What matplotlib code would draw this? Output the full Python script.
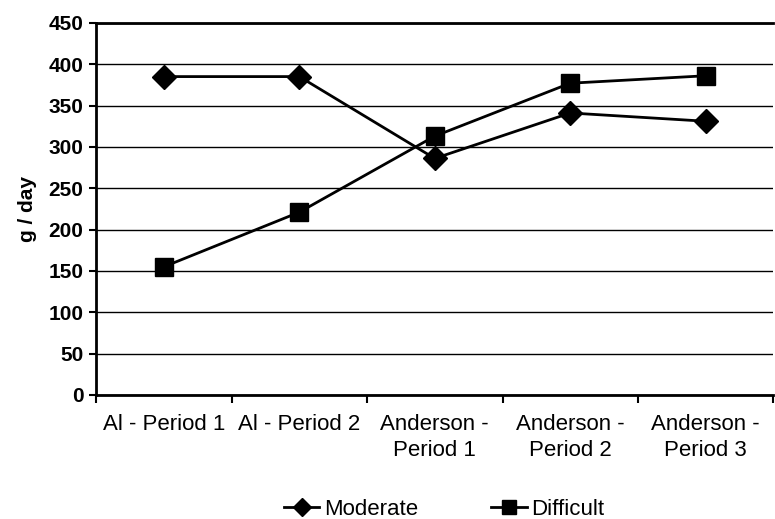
import matplotlib
matplotlib.use("Agg")
import matplotlib.pyplot as plt
import numpy as np

plt.rcParams['font.family'] = ['Liberation Sans', 'DejaVu Sans']

categories = ["Al - Period 1", "Al - Period 2", "Anderson -\nPeriod 1",
              "Anderson -\nPeriod 2", "Anderson -\nPeriod 3"]
moderate = [385, 385, 286, 341, 331]
difficult = [155, 221, 313, 377, 386]
yticks = [0, 50, 100, 150, 200, 250, 300, 350, 400, 450]

fig = plt.figure(figsize=(7.75, 5.19), dpi=100)
ax = fig.add_axes([0.124, 0.239, 0.874, 0.717])

x = np.arange(len(categories))
ax.plot(x, moderate, color='black', lw=2, marker='D', markersize=12, label='Moderate')
ax.plot(x, difficult, color='black', lw=2, marker='s', markersize=12.5, label='Difficult')

ax.set_xlim(-0.5, len(categories) - 0.5)
ax.set_ylim(0, 450)
ax.set_yticks(yticks)
ax.set_yticklabels([str(v) for v in yticks], fontsize=15, fontweight='bold')
ax.set_xticks(x)
ax.set_xticklabels(categories, fontsize=16, linespacing=1.3)
ax.tick_params(axis='x', length=0, pad=14)
ax.set_xticks(np.arange(-0.5, len(categories)), minor=True)
ax.tick_params(axis='x', which='minor', length=6, width=1.5, direction='out')
ax.tick_params(axis='y', length=5, width=1.5, direction='out', pad=4)
ax.grid(axis='y', color='black', lw=1.0)
ax.set_axisbelow(True)
ax.set_ylabel("g / day", fontsize=15, fontweight='bold', labelpad=8)

for s in ['left', 'bottom', 'top']:
    ax.spines[s].set_linewidth(2)
ax.spines['right'].set_visible(False)

fig.legend(loc='lower center', bbox_to_anchor=(0.573, -0.04), ncol=2, frameon=False,
           fontsize=16, handlelength=1.6, columnspacing=3.3, handletextpad=0.2,
           markerscale=0.75)

fig.savefig("out.png", dpi=100)
